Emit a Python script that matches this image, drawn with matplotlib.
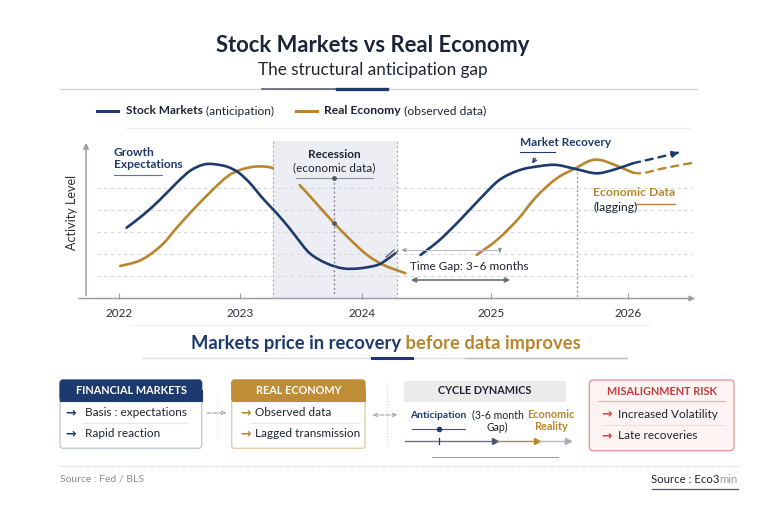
import numpy as np
import matplotlib
matplotlib.use('Agg')
import matplotlib.pyplot as plt
from matplotlib.path import Path
from matplotlib.patches import PathPatch, FancyBboxPatch, Rectangle

plt.rcParams['font.family'] = ['Lato', 'DejaVu Sans']

NAVY = '#1d3a6e'
GOLD = '#b8862e'
DARK = '#1f2433'
GRID = '#d3d6dc'

# ---------------- data ----------------
years = ['2022', '2023', '2024', '2025', '2026']
year_pos = [2022.0, 2022.951, 2023.910, 2024.923, 2026.0]
grid_levels = [1, 2, 3, 4, 5]
recession = (2023.213, 2024.187)

stock_seg1_x = [2022.06, 2022.19, 2022.32, 2022.45, 2022.56, 2022.66, 2022.74, 2022.85, 2022.94,
                2023.03, 2023.13, 2023.24, 2023.34, 2023.40, 2023.50, 2023.63, 2023.76, 2023.89,
                2024.03, 2024.10, 2024.17]
stock_seg1_y = [3.22, 3.80, 4.48, 5.24, 5.81, 6.08, 6.11, 5.99, 5.72,
                5.24, 4.55, 3.87, 3.19, 2.74, 2.05, 1.60, 1.37, 1.37,
                1.52, 1.75, 2.05]
stock_seg2_x = [2024.37, 2024.52, 2024.68, 2024.84, 2024.99, 2025.15, 2025.31, 2025.44,
                2025.60, 2025.75, 2025.88, 2026.04]
stock_seg2_y = [1.98, 2.66, 3.57, 4.55, 5.39, 5.84, 6.02, 6.07,
                5.87, 5.69, 5.84, 6.15]
stock_proj_x = [2026.04, 2026.23, 2026.42]
stock_proj_y = [6.15, 6.40, 6.67]

econ_seg1_x = [2022.01, 2022.14, 2022.24, 2022.35, 2022.45, 2022.58, 2022.72, 2022.85,
               2022.95, 2023.06, 2023.16, 2023.21]
econ_seg1_y = [1.48, 1.67, 1.98, 2.51, 3.19, 4.02, 4.85, 5.54,
               5.84, 5.99, 5.99, 5.92]
econ_seg2_x = [2023.42, 2023.55, 2023.68, 2023.82, 2023.95, 2024.08, 2024.25]
econ_seg2_y = [5.16, 4.33, 3.49, 2.66, 1.98, 1.52, 1.15]
econ_seg3_x = [2024.81, 2024.97, 2025.13, 2025.28, 2025.44, 2025.60, 2025.70, 2025.78,
               2025.88, 2025.99, 2026.04]
econ_seg3_y = [1.98, 2.66, 3.57, 4.63, 5.46, 5.96, 6.26, 6.30,
               6.11, 5.84, 5.72]
econ_proj_x = [2026.04, 2026.12, 2026.28, 2026.51]
econ_proj_y = [5.72, 5.70, 5.92, 6.17]

# ---------------- figure ----------------
fig = plt.figure(figsize=(7.68, 5.12), dpi=100)
fig.patch.set_facecolor('white')

ax = fig.add_axes([76 / 768, (512 - 298.5) / 512, 622 / 768, 158.5 / 512], zorder=2)
ax.set_facecolor('none')
ax.set_xlim(2021.662, 2026.550)
ax.set_ylim(0, 7.2045)
for s in ax.spines.values():
    s.set_visible(False)
ax.set_yticks([])
ax.set_xticks(year_pos, years)
ax.tick_params(axis='x', direction='in', length=4, width=0.8, color='#9aa0aa',
               labelsize=8.5, labelcolor='#2a2f3a', pad=7)

ov = fig.add_axes([0, 0, 1, 1], zorder=5)
ov.set_xlim(0, 768)
ov.set_ylim(512, 0)
ov.axis('off')
ov.patch.set_alpha(0)

fig.canvas.draw()
renderer = fig.canvas.get_renderer()


def rich(x, y, parts, ha='left', **kw):
    texts, widths = [], []
    for s, st in parts:
        opts = dict(kw)
        opts.update(st)
        t = ov.text(0, y, s, va='center', ha='left', **opts)
        widths.append(t.get_window_extent(renderer=renderer).width)
        texts.append(t)
    total = sum(widths)
    x0 = x - total / 2 if ha == 'center' else (x - total if ha == 'right' else x)
    for t, w in zip(texts, widths):
        t.set_x(x0)
        x0 += w


def smooth(axis, xs, ys, **kw):
    P = np.column_stack([xs, ys]).astype(float)
    n = len(P)
    verts, codes = [P[0]], [Path.MOVETO]
    for i in range(n - 1):
        p0 = P[i - 1] if i > 0 else P[i]
        p1, p2 = P[i], P[i + 1]
        p3 = P[i + 2] if i + 2 < n else P[i + 1]
        verts += [p1 + (p2 - p0) / 6, p2 - (p3 - p1) / 6, p2]
        codes += [Path.CURVE4] * 3
    axis.add_patch(PathPatch(Path(verts, codes), fill=False, capstyle='round', **kw))


# ---------------- chart ----------------
ax.axvspan(recession[0], recession[1], ymin=0, ymax=0.994, color='#eceef3', zorder=0, lw=0)
ax.vlines(recession, 0, 7.15, linestyles=(0, (2, 2)), colors='#a8acb5', lw=0.8, zorder=1)
ax.hlines(grid_levels, 2021.83, 2026.5, colors=GRID, lw=0.8, linestyles=(0, (3, 3)), zorder=1)

smooth(ax, stock_seg1_x, stock_seg1_y, color=NAVY, lw=1.9, zorder=4)
smooth(ax, stock_seg2_x, stock_seg2_y, color=NAVY, lw=1.9, zorder=4)
smooth(ax, stock_proj_x, stock_proj_y, color=NAVY, lw=1.7, linestyle=(0, (3, 2.5)), zorder=4)
ax.annotate('', xy=(stock_proj_x[-1], stock_proj_y[-1]), xytext=(2026.36, 6.58),
            arrowprops=dict(arrowstyle='-|>', color=NAVY, lw=1.5, mutation_scale=9),
            annotation_clip=False)

smooth(ax, econ_seg1_x, econ_seg1_y, color=GOLD, lw=1.9, zorder=3)
smooth(ax, econ_seg2_x, econ_seg2_y, color=GOLD, lw=1.9, zorder=3)
smooth(ax, econ_seg3_x, econ_seg3_y, color=GOLD, lw=1.9, zorder=3)
smooth(ax, econ_proj_x, econ_proj_y, color=GOLD, lw=1.7, linestyle=(0, (3, 2.5)), zorder=3)

# axes arrows
ax.annotate('', xy=(2026.55, 0), xytext=(2021.662, 0),
            arrowprops=dict(arrowstyle='-|>', color='#9aa0aa', lw=1.1, mutation_scale=8),
            annotation_clip=False)
ax.annotate('', xy=(2021.741, 7.2), xytext=(2021.741, 0),
            arrowprops=dict(arrowstyle='-|>', color='#9aa0aa', lw=1.1, mutation_scale=8),
            annotation_clip=False)

ov.text(72, 212, 'Activity Level', rotation=90, ha='center', va='center', fontsize=9, color='#2a2f3a')

# ---------------- title ----------------
ov.text(373, 45, 'Stock Markets vs Real Economy', ha='center', va='center', fontsize=15.8,
        fontweight='bold', color='#1c2438')
ov.text(373, 70, 'The structural anticipation gap', ha='center', va='center', fontsize=12.3,
        color='#1f2433')
ov.plot([60, 697], [89, 89], color='#cfd2d8', lw=0.9)
ov.plot([262, 337], [89, 89], color='#5a6170', lw=1.2)
ov.plot([337, 387], [89, 89], color=NAVY, lw=2.4)

# legend
ov.plot([97, 118], [111, 111], color=NAVY, lw=2.2)
rich(126, 111, [('Stock Markets', dict(fontweight='bold')), (' (anticipation)', {})],
     fontsize=8.6, color=DARK)
ov.plot([296, 317], [111, 111], color=GOLD, lw=2.2)
rich(324, 111, [('Real Economy', dict(fontweight='bold')), (' (observed data)', {})],
     fontsize=8.7, color=DARK)
ov.plot([126, 690], [128, 128], color='#eef0f3', lw=1)

# chart annotations
ov.text(114, 152, 'Growth', ha='left', va='center', fontsize=8.6, fontweight='bold', color=NAVY)
ov.text(114, 165, 'Expectations', ha='left', va='center', fontsize=8.6, fontweight='bold', color=NAVY)
ov.plot([114, 162], [175, 175], color=NAVY, lw=0.8, alpha=0.7)

ov.text(334, 155, 'Recession', ha='center', va='center', fontsize=8.5, fontweight='bold', color=DARK)
ov.text(334, 168, '(economic data)', ha='center', va='center', fontsize=8.5, color=DARK)
ov.plot([296, 373], [178, 178], color='#8a8f99', lw=0.8)
ov.plot([334, 334], [178, 296], color='#777c86', lw=0.9, linestyle=(0, (1.5, 2)))
ov.plot([334, 334], [178, 222.7], 'o', color='#555b66', ms=2.5)

ov.text(520, 143, 'Market Recovery', ha='left', va='center', fontsize=8.5, fontweight='bold', color=NAVY)
ov.plot([520, 555], [152, 152], color=NAVY, lw=0.8)
ov.annotate('', xy=(530.7, 166), xytext=(537, 156),
            arrowprops=dict(arrowstyle='->', color=NAVY, lw=0.9, mutation_scale=7))

ov.text(593, 193, 'Economic Data', ha='left', va='center', fontsize=8.8, fontweight='bold', color=GOLD)
ov.text(593, 207, '(lagging)', ha='left', va='center', fontsize=8.8, color=DARK)
ov.plot([636, 675], [204, 204], color=GOLD, lw=1)

ov.plot([577, 577], [172, 297], color='#8a8f99', lw=0.9, linestyle=(0, (1.5, 2)))

# time gap
ov.text(410, 267, 'Time Gap: 3\u20136 months', ha='left', va='center', fontsize=8.5, color=DARK)
ov.annotate('', xy=(408, 280), xytext=(513, 280),
            arrowprops=dict(arrowstyle='<|-|>', color='#6b6f78', lw=1.2, mutation_scale=7))
ov.plot([404, 500], [250, 250], color='#b7bbc2', lw=0.7)
ov.annotate('', xy=(399, 250), xytext=(409, 250),
            arrowprops=dict(arrowstyle='->', color='#8a8f99', lw=0.7, mutation_scale=6))
ov.annotate('', xy=(500, 255), xytext=(500, 249),
            arrowprops=dict(arrowstyle='-|>', color='#8a8f99', lw=0.7, mutation_scale=5))
ov.plot([386, 394], [257, 250], color='#4a5060', lw=0.8)
ov.plot([390, 398], [258, 251], color='#4a5060', lw=0.8)

# ---------------- mid heading ----------------
ov.plot([130, 650], [325, 325], color='#f1f2f4', lw=1)
rich(386, 343, [('Markets price in recovery', dict(color=NAVY)),
                (' before data improves', dict(color=GOLD))],
     ha='center', fontsize=13.2, fontweight='bold')
ov.plot([143, 627], [358, 358], color='#dadde2', lw=1)
ov.plot([465, 627], [358, 358], color='#b9bdc6', lw=1)
ov.plot([372, 412], [358, 358], color=NAVY, lw=2.2)

# ---------------- bottom boxes ----------------
def card(x0, y0, w, h, head_h, head_fc, border):
    ov.add_patch(FancyBboxPatch((x0, y0), w, h, boxstyle='round,pad=0,rounding_size=3',
                                fc='white', ec=border, lw=1, zorder=2))
    ov.add_patch(FancyBboxPatch((x0, y0), w, head_h, boxstyle='round,pad=0,rounding_size=3',
                                fc=head_fc, ec=head_fc, lw=0.8, zorder=3))
    ov.add_patch(Rectangle((x0, y0 + head_h / 2), w, head_h / 2, fc=head_fc, ec=head_fc,
                           lw=0.8, zorder=3))


def arrow_glyph(x, y, color):
    ov.text(x, y, '\u2192', ha='center', va='center', fontsize=9, fontweight='bold',
            color=color, family='DejaVu Sans', zorder=4)

# box 1
card(60, 380, 141.7, 68.3, 20.7, NAVY, '#c3cad8')
ov.text(131, 390.5, 'FINANCIAL MARKETS', ha='center', va='center', fontsize=7.8,
        fontweight='bold', color='white', zorder=4)
for yy, s in [(413, 'Basis : expectations'), (433.3, 'Rapid reaction')]:
    arrow_glyph(71, yy, NAVY)
    ov.text(85, yy, s, ha='left', va='center', fontsize=8.5, color=DARK, zorder=4)
ov.plot([82, 187], [423, 423], color='#e6e8ec', lw=0.8, zorder=4)

# connector 1
ov.annotate('', xy=(229, 413), xytext=(204, 413),
            arrowprops=dict(arrowstyle='->', linestyle='--', color='#9aa0aa', lw=0.8, mutation_scale=6))
ov.plot([217, 217], [396, 440], color='#d5d8dd', lw=0.7, linestyle=(0, (1, 2)))

# box 2
card(231.7, 380, 133.3, 68.3, 20.7, '#bf8d36', '#e2cfa6')
ov.text(298.3, 390.5, 'REAL ECONOMY', ha='center', va='center', fontsize=7.8,
        fontweight='bold', color='white', zorder=4)
for yy, s in [(413, 'Observed data'), (433.3, 'Lagged transmission')]:
    arrow_glyph(246, yy, GOLD)
    ov.text(255, yy, s, ha='left', va='center', fontsize=8.5, color=DARK, zorder=4)
ov.plot([250, 360], [423, 423], color='#eee8dc', lw=0.8, zorder=4)

# connector 2
ov.annotate('', xy=(400, 415), xytext=(370, 415),
            arrowprops=dict(arrowstyle='<->', linestyle='--', color='#9aa0aa', lw=0.8, mutation_scale=6))
ov.plot([387, 387], [383, 447], color='#c9ccd2', lw=0.7, linestyle=(0, (1, 2)))

# box 3
ov.add_patch(Rectangle((404, 380.7), 162, 21, fc='#ebebeb', ec='none', zorder=2))
ov.text(485, 391, 'CYCLE DYNAMICS', ha='center', va='center', fontsize=7.8,
        fontweight='bold', color=DARK, zorder=4)
ov.text(410, 415, 'Anticipation', ha='left', va='center', fontsize=7.4, fontweight='bold', color=NAVY)
ov.text(497.5, 415, '(3-6 month', ha='center', va='center', fontsize=7.6, color=DARK)
ov.text(497.5, 427, 'Gap)', ha='center', va='center', fontsize=7.6, color=DARK)
ov.text(550.5, 415, 'Economic', ha='center', va='center', fontsize=7.8, fontweight='bold', color=GOLD)
ov.text(551, 427, 'Reality', ha='center', va='center', fontsize=7.8, fontweight='bold', color=GOLD)
ov.plot([411.7, 465], [429.3, 429.3], color='#4d5566', lw=0.8)
ov.plot([439], [429.3], 'o', color=NAVY, ms=3)
ov.plot([405, 495], [440.7, 440.7], color='#6b7385', lw=1)
ov.plot([439, 439], [437.7, 443.7], color=NAVY, lw=0.9)
ov.plot([495], [440.7], '>', color='#4d5566', ms=4)
ov.plot([497, 537], [440.7, 440.7], color=GOLD, lw=1)
ov.plot([537], [440.7], '>', color=GOLD, ms=4)
ov.plot([539, 566], [440.7, 440.7], color='#b5b9c1', lw=1)
ov.plot([568], [440.7], '>', color='#a8adb6', ms=4)
ov.plot([432, 558], [457.3, 457.3], color='#9aa0ab', lw=0.8)

# box 4
ov.add_patch(FancyBboxPatch((589.3, 380), 144.7, 70.7, boxstyle='round,pad=0,rounding_size=4',
                            fc='#fdf3f3', ec='#e59a9a', lw=1, zorder=2))
ov.text(661.7, 391.7, 'MISALIGNMENT RISK', ha='center', va='center', fontsize=7.8,
        fontweight='bold', color='#c9393a', zorder=4)
ov.plot([598, 725], [401, 401], color='#e8b4b4', lw=0.9, zorder=4)
for yy, s in [(414, 'Increased Volatility'), (435.7, 'Late recoveries')]:
    arrow_glyph(607, yy, '#d9453f')
    ov.text(618, yy, s, ha='left', va='center', fontsize=8.5, color=DARK, zorder=4)
ov.plot([602, 725], [424.5, 424.5], color='#f3dede', lw=0.8, zorder=4)

# footer
ov.plot([60, 740], [466, 466], color='#c7c9ce', lw=0.8, linestyle=(0, (1, 1.5)))
ov.text(60, 478.5, 'Source : Fed / BLS', ha='left', va='center', fontsize=7.5, color='#8a8d94')
rich(738, 479.5, [('Source : Eco3', dict(color=DARK)), ('min', dict(color='#9a9da4'))],
     ha='right', fontsize=8.2)
ov.plot([652, 738], [488.7, 488.7], color='#555b66', lw=0.9)

fig.savefig('out.png', dpi=100, facecolor='white')
